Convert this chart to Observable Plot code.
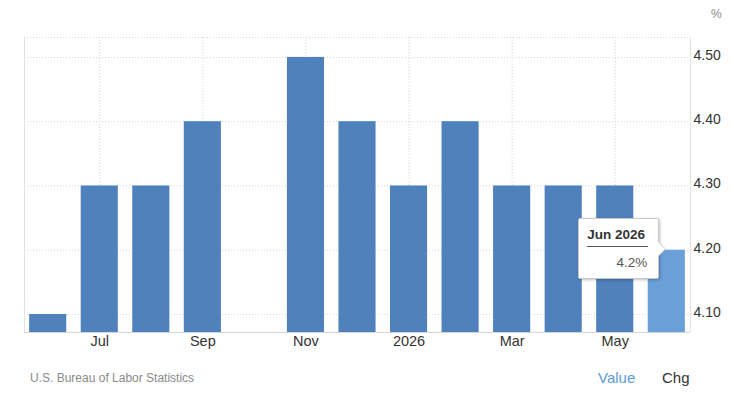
<!DOCTYPE html>
<html>
<head>
<meta charset="utf-8">
<script src="https://cdn.jsdelivr.net/npm/d3@7"></script>
<script src="https://cdn.jsdelivr.net/npm/@observablehq/plot@0.6"></script>
<style>
  html, body { margin: 0; padding: 0; background: #fff; }
  #wrap { position: relative; width: 734px; height: 409px; font-family: "Liberation Sans", Arial, sans-serif; overflow: hidden; }
  #chart { position: absolute; left: 0; top: 0; }
  .abs { position: absolute; white-space: nowrap; }
  #tip { position: absolute; background: #fff; border: 1px solid #c8c8c8; box-shadow: 1px 1px 3px rgba(0,0,0,0.25); border-radius: 2px; box-sizing: border-box; }
  #tip .arrow { position: absolute; right: -7px; width: 0; height: 0; border-top: 7px solid transparent; border-bottom: 7px solid transparent; border-left: 7px solid #fff; }
  #tip .arrowb { position: absolute; right: -8px; width: 0; height: 0; border-top: 8px solid transparent; border-bottom: 8px solid transparent; border-left: 8px solid #c8c8c8; }
</style>
</head>
<body>
<div id="wrap">
  <div id="chart"></div>
</div>
<script>
// ---- data ----
const months = ["Jun 2025","Jul 2025","Aug 2025","Sep 2025","Oct 2025","Nov 2025","Dec 2025","Jan 2026","Feb 2026","Mar 2026","Apr 2026","May 2026","Jun 2026"];
const values = [4.1, 4.3, 4.3, 4.4, null, 4.5, 4.4, 4.3, 4.4, 4.3, 4.3, 4.3, 4.2];
const tickMonths = ["Jul 2025","Sep 2025","Nov 2025","Jan 2026","Mar 2026","May 2026"];
const tickLabels = ["Jul","Sep","Nov","2026","Mar","May"];
const yTicks = [4.1, 4.2, 4.3, 4.4, 4.5];
const yDomain = [4.072, 4.531];
const highlightMonth = "Jun 2026";
const tipTitle = "Jun 2026";
const tipValue = "4.2%";
const unitLabel = "%";
const sourceText = "U.S. Bureau of Labor Statistics";
const toggleLabels = ["Value", "Chg"];

const rows = months.map((m, i) => ({month: m, value: values[i]})).filter(d => d.value != null);
const labelOf = new Map(tickMonths.map((m, i) => [m, tickLabels[i]]));

const W = 734, H = 352, mT = 37, mB = 20, mL = 24, mR = 44;

function edges(index, scales, vals, dims) {
  const g = d3.create("svg:g");
  const x0 = mL + 0.5, x1 = W - mR + 0.5, y0 = mT, y1 = H - mB;
  g.append("line").attr("x1", x0).attr("x2", x0).attr("y1", y0).attr("y2", y1).attr("stroke", "#e2e2e2");
  g.append("line").attr("x1", x1).attr("x2", x1).attr("y1", y0).attr("y2", y1).attr("stroke", "#e2e2e2");
  return g.node();
}

const chart = Plot.plot({
  width: W, height: H,
  marginTop: mT, marginBottom: mB, marginLeft: mL, marginRight: mR,
  style: {fontFamily: "'Liberation Sans', Arial, sans-serif", background: "#fff", overflow: "visible"},
  x: {type: "band", domain: months, paddingInner: 0.28, paddingOuter: 0.1, round: false, axis: null},
  y: {domain: yDomain, axis: null},
  marks: [
    Plot.ruleY(yTicks, {stroke: "#d4d4d4", strokeDasharray: "1,2"}),
    Plot.ruleY([yDomain[1]], {stroke: "#d4d4d4", strokeDasharray: "1,2"}),
    Plot.gridX(tickMonths, {stroke: "#d4d4d4", strokeOpacity: 1, strokeDasharray: "1,2"}),
    edges,
    Plot.barY(rows, {
      x: "month", y1: yDomain[0], y2: "value",
      fill: d => d.month === highlightMonth ? "#6a9fd9" : "#4f81bd"
    }),
    Plot.ruleY([yDomain[0]], {stroke: "#d9d9d9"}),
    Plot.axisX({
      tickFormat: d => labelOf.get(d) ?? "", label: null,
      tickSize: 0, tickPadding: 3, fontSize: 14.5, fill: "#333"
    }),
    Plot.axisY({
      anchor: "right", ticks: yTicks, tickFormat: d3.format(".2f"), label: null,
      tickSize: 0, tickPadding: 3, fontSize: 14, fill: "#333", dy: -2
    })
  ]
});
document.getElementById("chart").appendChild(chart);

const wrap = document.getElementById("wrap");
function addText(txt, css) {
  const d = document.createElement("div");
  d.className = "abs";
  d.textContent = txt;
  Object.assign(d.style, css);
  wrap.appendChild(d);
  return d;
}
addText(unitLabel, {left: "711px", top: "7px", fontSize: "12px", color: "#888"});
addText(sourceText, {left: "30px", top: "371px", fontSize: "12px", color: "#8a8a8a"});
addText(toggleLabels[0], {left: "598px", top: "369px", fontSize: "15px", color: "#5b9bd5"});
addText(toggleLabels[1], {left: "662px", top: "369px", fontSize: "15px", color: "#333"});

// tooltip positioned from the scales
const sx = chart.scale("x"), sy = chart.scale("y");
const hv = values[months.indexOf(highlightMonth)];
const px = sx.apply(highlightMonth) + sx.bandwidth / 2;
const py = sy.apply(hv);
const tw = 81, th = 61;
const tip = document.createElement("div");
tip.id = "tip";
Object.assign(tip.style, {left: (px - 7 - tw) + "px", top: (py - th / 2 - 1) + "px", width: tw + "px", height: th + "px"});
tip.innerHTML = `
  <div class="arrowb" style="top:${th/2 - 8 - 1}px"></div>
  <div class="arrow" style="top:${th/2 - 7 - 1}px"></div>
  <div style="position:absolute;left:8px;right:10px;top:8px;font-weight:bold;font-size:13.5px;color:#333;text-align:left;padding-bottom:4px;border-bottom:1px solid #555;"></div>
  <div style="position:absolute;right:11px;top:36px;font-size:13.5px;color:#555;"></div>`;
tip.children[2].textContent = tipTitle;
tip.children[3].textContent = tipValue;
wrap.appendChild(tip);
</script>
</body>
</html>
